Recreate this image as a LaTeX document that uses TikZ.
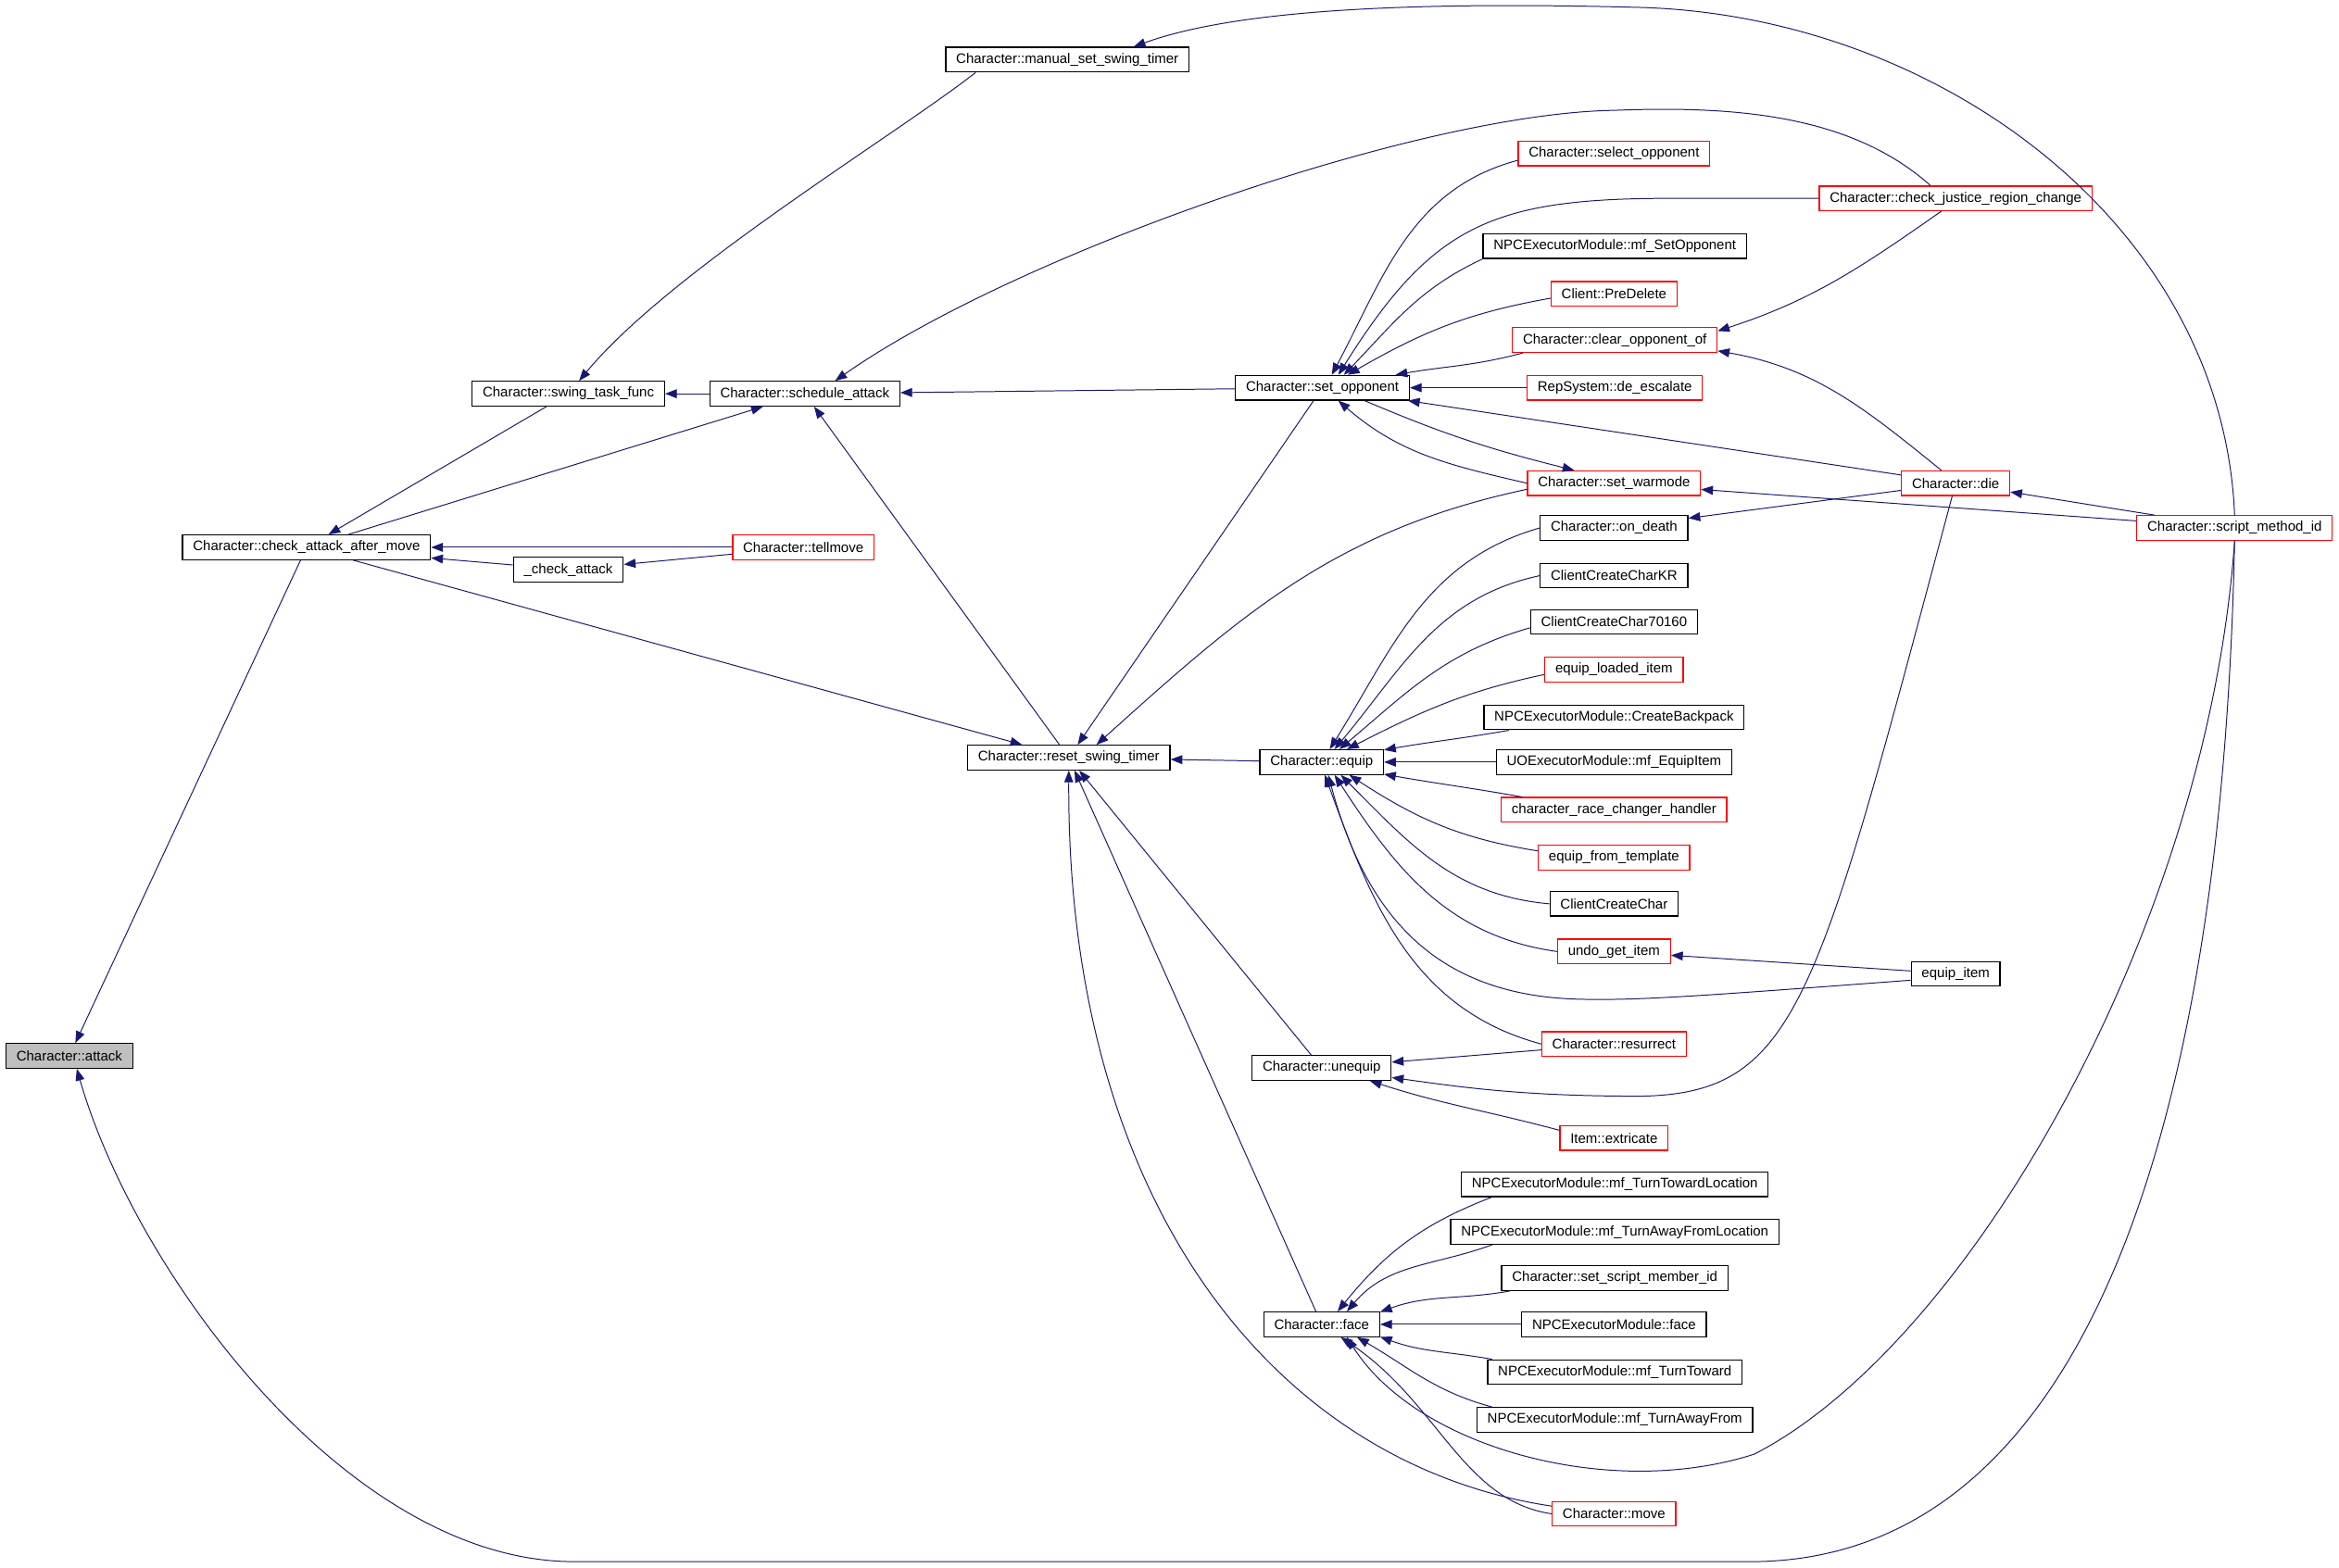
\documentclass[tikz,border=0pt]{standalone}
\usepackage{fontspec}
\setmainfont{Liberation Sans}
\usetikzlibrary{arrows.meta}
\definecolor{edgeblue}{RGB}{25,25,112}
\definecolor{nodegray}{RGB}{191,191,191}

\begin{document}
\begin{tikzpicture}[x=0.02cm, y=0.02cm,
	fn/.style={draw=black, line width=0.45pt, fill=white, inner xsep=0.14cm, inner ysep=0pt,
		minimum height=0.33cm, font=\fontsize{5.3pt}{6pt}\selectfont},
	fnred/.style={fn, draw=red},
	call/.style={draw=edgeblue, line width=0.35pt, -{Triangle[length=4.5pt,width=3.4pt]}},]

\useasboundingbox (0,0) rectangle (1568,1051);

\node[fn, fill=nodegray] (attack) at (46.5,343) {Character::attack};
\node[fn] (cam) at (205.5,684) {Character::check\_attack\_after\_move};
\node[fn] (chk) at (381,669) {\_check\_attack};
\node[fn] (stf) at (381,787) {Character::swing\_task\_func};
\node[fn] (sa) at (539.5,787) {Character::schedule\_attack};
\node[fn] (msst) at (715.5,1011) {Character::manual\_set\_swing\_timer};
\node[fnred] (tellmove) at (538.5,684) {Character::tellmove};
\node[fn] (rst) at (716.5,543) {Character::reset\_swing\_timer};
\node[fn] (so) at (886.5,791) {Character::set\_opponent};
\node[fn] (equip) at (886,540) {Character::equip};
\node[fn] (unequip) at (886,335) {Character::unequip};
\node[fn] (face) at (886,163) {Character::face};
\node[fnred] (select) at (1082,948) {Character::select\_opponent};
\node[fnred] (cjrc) at (1311,918) {Character::check\_justice\_region\_change};
\node[fn] (mfset) at (1082.5,886) {NPCExecutorModule::mf\_SetOpponent};
\node[fnred] (predelete) at (1082,854) {Client::PreDelete};
\node[fnred] (cof) at (1082.5,823) {Character::clear\_opponent\_of};
\node[fnred] (desc) at (1082.5,791) {RepSystem::de\_escalate};
\node[fnred] (warmode) at (1082,727) {Character::set\_warmode};
\node[fnred] (die) at (1311,727) {Character::die};
\node[fnred] (smi) at (1498,697) {Character::script\_method\_id};
\node[fn] (ondeath) at (1082,697) {Character::on\_death};
\node[fn] (kr) at (1082,665) {ClientCreateCharKR};
\node[fn] (c70160) at (1082,634) {ClientCreateChar70160};
\node[fnred] (loaded) at (1082,602) {equip\_loaded\_item};
\node[fn] (backpack) at (1082,570) {NPCExecutorModule::CreateBackpack};
\node[fn] (mfequip) at (1082,540) {UOExecutorModule::mf\_EquipItem};
\node[fnred] (race) at (1082,508) {character\_race\_changer\_handler};
\node[fnred] (fromtemplate) at (1082,476) {equip\_from\_template};
\node[fn] (ccc) at (1082,445) {ClientCreateChar};
\node[fnred] (undo) at (1082,413) {undo\_get\_item};
\node[fn] (equipitem) at (1311,398) {equip\_item};
\node[fnred] (resurrect) at (1082,351) {Character::resurrect};
\node[fnred] (extricate) at (1082,288) {Item::extricate};
\node[fn] (ttl) at (1082.5,257) {NPCExecutorModule::mf\_TurnTowardLocation};
\node[fn] (tafl) at (1082.5,225) {NPCExecutorModule::mf\_TurnAwayFromLocation};
\node[fn] (ssmi) at (1082.5,194) {Character::set\_script\_member\_id};
\node[fn] (npcface) at (1082,163) {NPCExecutorModule::face};
\node[fn] (tt) at (1082.5,131) {NPCExecutorModule::mf\_TurnToward};
\node[fn] (taf) at (1082.5,99) {NPCExecutorModule::mf\_TurnAwayFrom};
\node[fnred] (move) at (1082,36) {Character::move};

\draw[call] (cam) -- (attack);
\draw[call] (smi.south) .. controls (1490,300) and (1400,10) .. (1180,4) -- (380,4)
	.. controls (230,8) and (90,200) .. (attack.-60);
\draw[call] (stf) -- (cam);
\draw[call] (tellmove) -- (cam);
\draw[call] (chk) -- (cam);
\draw[call] (tellmove) -- (chk);
\draw[call] (sa) -- (stf);
\draw[call] (msst.188) .. controls (600,960) and (450,870) .. (stf);
\draw[call] (smi.north) .. controls (1490,900) and (1300,1040) .. (1100,1046)
	.. controls (950,1050) and (830,1045) .. (msst.11);
\draw[call] (cam) -- (sa);
\draw[call] (so) -- (sa);
\draw[call] (cjrc.153) .. controls (1240,975) and (1160,980) .. (1082,977)
	.. controls (950,975) and (680,880) .. (sa.23);
\draw[call] (rst) -- (sa);
\draw[call] (cam) -- (rst);
\draw[call] (so) -- (rst);
\draw[call] (warmode.184) to[out=192,in=42] (rst.25);
\draw[call] (equip) -- (rst);
\draw[call] (unequip) -- (rst);
\draw[call] (face) -- (rst);
\draw[call] (move.173) .. controls (850,70) and (715,250) .. (rst.south);

\draw[call] (select.184) to[out=195,in=62] (so.54);
\draw[call] (cjrc.west) -- (1120,918) .. controls (1000,918) and (960,900) .. (so.39);
\draw[call] (mfset.south west) to[out=205,in=46] (so.31);
\draw[call] (predelete.184) to[out=190,in=30] (so.27);
\draw[call] (cof.188) to[out=195,in=10] (so.10);
\draw[call] (desc) -- (so);
\draw[call] (die) -- (so);
\draw[call] (warmode.west) to[out=167,in=-41] (so.-39);
\draw[call] (so.-17) to[out=-23,in=166] (warmode.162);
\draw[call] (cjrc.222) to[out=215,in=18] (cof.5);
\draw[call] (die.138) to[out=141,in=-10] (cof.-6);
\draw[call] (die) -- (ondeath);
\draw[call] (smi) -- (die);
\draw[call] (smi) -- (warmode);

\draw[call] (ondeath.west) to[out=196,in=58] (equip.58);
\draw[call] (kr.west) to[out=192,in=50] (equip.45);
\draw[call] (c70160.184) to[out=196,in=40] (equip.36);
\draw[call] (loaded.184) to[out=192,in=27] (equip.27);
\draw[call] (backpack.187) to[out=190,in=10] (equip.11);
\draw[call] (mfequip) -- (equip);
\draw[call] (race.172) to[out=170,in=-10] (equip.-11);
\draw[call] (fromtemplate.175) to[out=171,in=-33] (equip.-25);
\draw[call] (ccc.west) to[out=175,in=-45] (equip.-34);
\draw[call] (undo.west) to[out=172,in=-57] (equip.-45);
\draw[call] (equipitem.188) .. controls (1150,384) and (1100,380) .. (1060,381)
	.. controls (960,383) and (915,440) .. (equip.-63);
\draw[call] (equipitem) -- (undo);
\draw[call] (resurrect.west) to[out=165,in=-70] (equip.-76);
\draw[call] (resurrect) -- (unequip);
\draw[call] (die) .. controls (1218,380) and (1206,318) .. (1100,316)
	.. controls (1020,316) and (980,322) .. (unequip);
\draw[call] (extricate.172) to[out=165,in=-18] (unequip.-15);

\draw[call] (ttl.186) to[out=201,in=51] (face.39);
\draw[call] (tafl.186) to[out=200,in=50] (face.27);
\draw[call] (ssmi.187) to[out=190,in=20] (face.12);
\draw[call] (npcface) -- (face);
\draw[call] (tt.174) to[out=170,in=-20] (face.-12);
\draw[call] (taf.174) to[out=165,in=-30] (face.-20);
\draw[call] (move.west) .. controls (980,45) and (965,110) .. (face.-34);
\draw[call] (smi.south) .. controls (1480,430) and (1320,150) .. (1176,76)
	.. controls (1080,45) and (950,80) .. (face.-27);
\end{tikzpicture}
\end{document}
